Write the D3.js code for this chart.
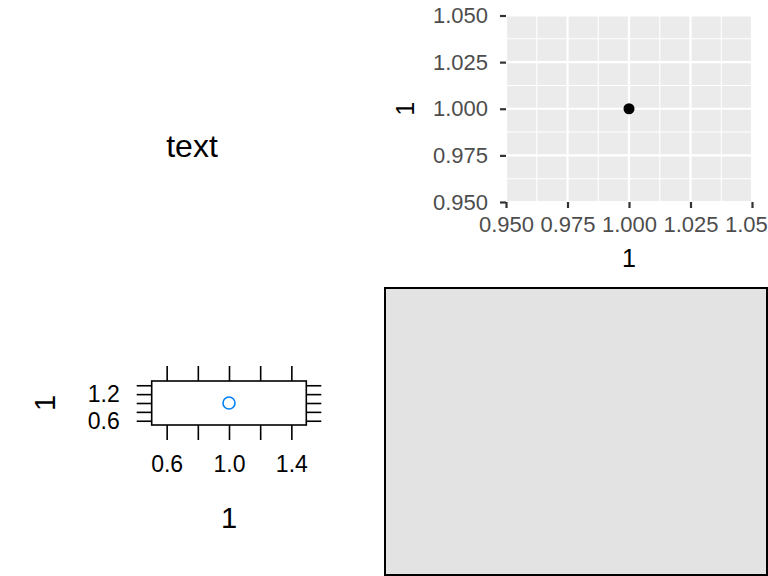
<!DOCTYPE html>
<html>
<head>
<meta charset="utf-8">
<script src="https://cdn.jsdelivr.net/npm/d3@7"></script>
<style>
  html, body { margin: 0; padding: 0; background: #fff; }
  svg { display: block; font-family: "Liberation Sans", Arial, Helvetica, sans-serif; }
</style>
</head>
<body>
<svg id="chart" width="768" height="576"></svg>
<script>
// ---- data ----
const textLabel = "text";

const ggX = [1];
const ggY = [1];
const ggTicks = [0.95, 0.975, 1.0, 1.025, 1.05];
const ggMinor = [0.9625, 0.9875, 1.0125, 1.0375];
const ggXTitle = "1";
const ggYTitle = "1";

const latX = [1];
const latY = [1];
const latTicks = [0.6, 0.8, 1.0, 1.2, 1.4];
const latXLabels = [0.6, 1.0, 1.4];
const latYLabels = [0.6, 1.2];
const latDomain = [0.504, 1.496];
const latXTitle = "1";
const latYTitle = "1";

const svg = d3.select("#chart");

// ---- top-left: text ----
svg.append("text")
  .attr("x", 192).attr("y", 157)
  .attr("text-anchor", "middle")
  .attr("font-size", 32)
  .attr("fill", "#000")
  .text(textLabel);

// ---- top-right: ggplot-style ----
const gx = d3.scaleLinear().domain([0.95, 1.05]).range([506, 752]);
const gy = d3.scaleLinear().domain([0.95, 1.05]).range([202, 15.5]);
const gg = svg.append("g");
gg.append("rect")
  .attr("x", gx(0.95)).attr("y", gy(1.05))
  .attr("width", gx(1.05) - gx(0.95)).attr("height", gy(0.95) - gy(1.05))
  .attr("fill", "#EBEBEB");
// minor grid
gg.selectAll("line.vminor").data(ggMinor).join("line")
  .attr("x1", d => gx(d)).attr("x2", d => gx(d))
  .attr("y1", gy(0.95)).attr("y2", gy(1.05))
  .attr("stroke", "#fff").attr("stroke-width", 1.1);
gg.selectAll("line.hminor").data(ggMinor).join("line")
  .attr("y1", d => gy(d)).attr("y2", d => gy(d))
  .attr("x1", gx(0.95)).attr("x2", gx(1.05))
  .attr("stroke", "#fff").attr("stroke-width", 1.1);
// major grid
gg.selectAll("line.vmajor").data(ggTicks).join("line")
  .attr("x1", d => gx(d)).attr("x2", d => gx(d))
  .attr("y1", gy(0.95)).attr("y2", gy(1.05))
  .attr("stroke", "#fff").attr("stroke-width", 2.2);
gg.selectAll("line.hmajor").data(ggTicks).join("line")
  .attr("y1", d => gy(d)).attr("y2", d => gy(d))
  .attr("x1", gx(0.95)).attr("x2", gx(1.05))
  .attr("stroke", "#fff").attr("stroke-width", 2.2);
// point
gg.selectAll("circle").data(ggX.map((d, i) => [d, ggY[i]])).join("circle")
  .attr("cx", d => gx(d[0])).attr("cy", d => gy(d[1]))
  .attr("r", 5.5).attr("fill", "#000");

const fmt3 = d3.format(".3f");
const gxAxis = gg.append("g").attr("transform", `translate(0,${gy(0.95)})`)
  .call(d3.axisBottom(gx).tickValues(ggTicks).tickSize(6).tickPadding(8).tickFormat(fmt3));
const gyAxis = gg.append("g").attr("transform", `translate(${gx(0.95)},0)`)
  .call(d3.axisLeft(gy).tickValues(ggTicks).tickSize(6).tickPadding(12).tickFormat(fmt3));
[gxAxis, gyAxis].forEach(a => {
  a.select(".domain").remove();
  a.selectAll(".tick line").attr("stroke", "#333").attr("stroke-width", 2.2);
  a.selectAll(".tick text").attr("fill", "#4D4D4D").attr("font-size", 22)
    .attr("font-family", "Liberation Sans, Arial, sans-serif");
});
gg.append("text").attr("x", gx(1.0)).attr("y", 267)
  .attr("text-anchor", "middle").attr("font-size", 25).attr("fill", "#000").text(ggXTitle);
gg.append("text").attr("transform", `translate(414,${gy(1.0)}) rotate(-90)`)
  .attr("text-anchor", "middle").attr("font-size", 25).attr("fill", "#000").text(ggYTitle);

// ---- bottom-left: lattice-style ----
const lx = d3.scaleLinear().domain(latDomain).range([151.7, 306.3]);
const ly = d3.scaleLinear().domain(latDomain).range([425, 381]);
const lg = svg.append("g");
const fmt1 = d3.format(".1f");
const near = (arr, d) => arr.some(v => Math.abs(v - d) < 1e-9);
function styleLat(a) {
  a.select(".domain").remove();
  a.selectAll(".tick line").attr("stroke", "#000").attr("stroke-width", 1.6);
  a.selectAll(".tick text").attr("fill", "#000").attr("font-size", 23)
    .attr("font-family", "Liberation Sans, Arial, sans-serif");
}
lg.append("g").attr("transform", `translate(0,${ly.range()[0]})`)
  .call(d3.axisBottom(lx).tickValues(latTicks).tickSize(15).tickPadding(16)
    .tickFormat(d => near(latXLabels, d) ? fmt1(d) : "")).call(styleLat);
lg.append("g").attr("transform", `translate(0,${ly.range()[1]})`)
  .call(d3.axisTop(lx).tickValues(latTicks).tickSize(15).tickFormat("")).call(styleLat);
lg.append("g").attr("transform", `translate(${lx.range()[0]},0)`)
  .call(d3.axisLeft(ly).tickValues(latTicks).tickSize(15).tickPadding(17)
    .tickFormat(d => near(latYLabels, d) ? fmt1(d) : "")).call(styleLat);
lg.append("g").attr("transform", `translate(${lx.range()[1]},0)`)
  .call(d3.axisRight(ly).tickValues(latTicks).tickSize(15).tickFormat("")).call(styleLat);
lg.append("rect")
  .attr("x", lx.range()[0]).attr("y", ly.range()[1])
  .attr("width", lx.range()[1] - lx.range()[0]).attr("height", ly.range()[0] - ly.range()[1])
  .attr("fill", "none").attr("stroke", "#000").attr("stroke-width", 1.6);
lg.selectAll("circle").data(latX.map((d, i) => [d, latY[i]])).join("circle")
  .attr("cx", d => lx(d[0])).attr("cy", d => ly(d[1]))
  .attr("r", 6).attr("fill", "none").attr("stroke", "#0080FF").attr("stroke-width", 1.6);
lg.append("text").attr("x", lx(1.0)).attr("y", 528)
  .attr("text-anchor", "middle").attr("font-size", 29).attr("fill", "#000").text(latXTitle);
lg.append("text").attr("transform", `translate(55,${ly(1.0)}) rotate(-90)`)
  .attr("text-anchor", "middle").attr("font-size", 29).attr("fill", "#000").text(latYTitle);

// ---- bottom-right: grey rect ----
svg.append("rect")
  .attr("x", 385).attr("y", 288)
  .attr("width", 382).attr("height", 287)
  .attr("fill", "#E3E3E3").attr("stroke", "#000").attr("stroke-width", 2);
</script>
</body>
</html>
